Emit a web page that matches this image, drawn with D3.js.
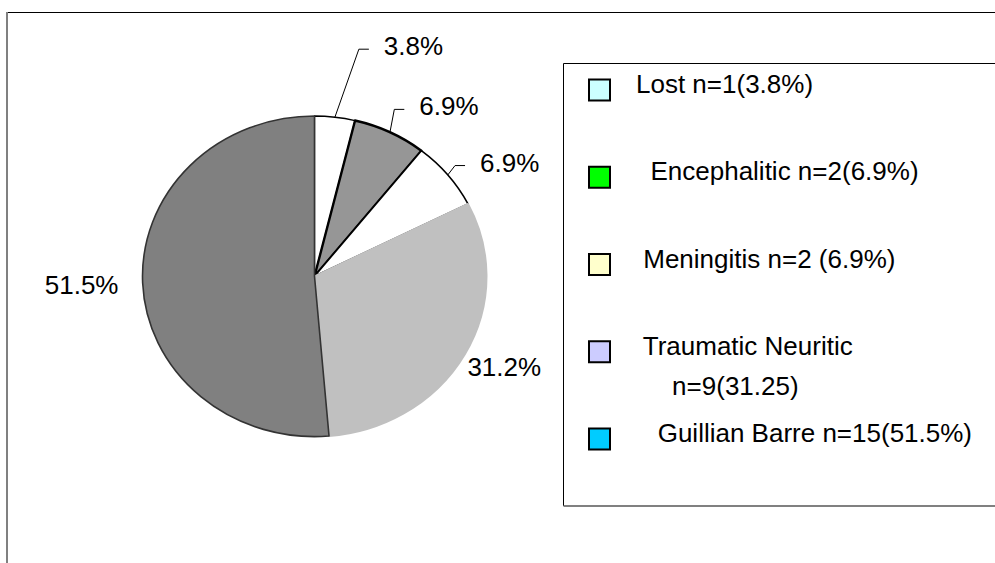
<!DOCTYPE html>
<html>
<head>
<meta charset="UTF-8">
<title>Pie chart</title>
<script src="https://cdn.jsdelivr.net/npm/d3@7"></script>
<style>
  html, body { margin: 0; padding: 0; background: #fff; }
  svg { display: block; }
  text { font-family: Arial, "Liberation Sans", sans-serif; font-size: 26px; fill: #000; white-space: pre; }
</style>
</head>
<body>
<div id="graphe"></div>
<script>
// donnees
var categories = ["Lost", "Encephalitic", "Meningitis", "Traumatic Neuritic", "Guillian Barre"];
var counts = [1, 2, 2, 9, 15];
var percents = [3.8, 6.9, 6.9, 31.2, 51.5];
var pctLabels = ["3.8%", "6.9%", "6.9%", "31.2%", "51.5%"];
var legendLabels = [
  ["Lost n=1(3.8%)"],
  ["  Encephalitic n=2(6.9%)"],
  [" Meningitis n=2 (6.9%)"],
  [" Traumatic Neuritic", "     n=9(31.25)"],
  ["   Guillian Barre n=15(51.5%)"]
];

// styles
var legendColors = ["#ccffff", "#00ff00", "#ffffcc", "#ccccff", "#00ccff"];
var sliceFills = ["#ffffff", "#969696", "#ffffff", "#c0c0c0", "#808080"];
var sliceStrokes = ["#000", "#000", "#000", "#c0c0c0", "#333"];
var sliceStrokeW = [1.3, 2.4, 1.6, 2, 1.6];
// placement des etiquettes : facteur de rayon, decalage angulaire (deg), trait de rappel
var labelK = [1.44, 1.14, 1.07, 1.24, 1.355];
var labelShift = [3.5, -2, -1, -2, 0];
var labelLeader = [true, true, true, false, false];

var width = 995, height = 563;
var cx = 314.5, cy = 276.3, rx = 172, ry = 160.3, ky = ry / rx;

var svg = d3.select("#graphe").append("svg")
  .attr("width", width)
  .attr("height", height);

// cadre exterieur
svg.append("line").attr("x1", 7).attr("x2", width).attr("y1", 12.5).attr("y2", 12.5)
  .attr("stroke", "#000").attr("stroke-width", 1.2);
svg.append("line").attr("x1", 7).attr("x2", 7).attr("y1", 12).attr("y2", height)
  .attr("stroke", "#808080").attr("stroke-width", 2);

var table = categories.map(function(c, i) {
  return { name: c, n: counts[i], pct: percents[i], label: pctLabels[i], i: i };
});

var pie = d3.pie().sort(null).value(function(d) { return d.pct; });
var arcs = pie(table);
var arc = d3.arc().innerRadius(0).outerRadius(rx);

var g = svg.append("g")
  .attr("transform", "translate(" + cx + "," + cy + ") scale(1," + ky + ")");

g.selectAll("path")
  .data(arcs)
  .enter().append("path")
  .attr("d", arc)
  .attr("fill", function(d) { return sliceFills[d.data.i]; })
  .attr("stroke", function(d) { return sliceStrokes[d.data.i]; })
  .attr("stroke-width", function(d) { return sliceStrokeW[d.data.i]; })
  .attr("stroke-linejoin", "round")
  .attr("vector-effect", "non-scaling-stroke");

function pt(a, r) {
  return [cx + r * Math.sin(a), cy - r * Math.cos(a) * ky];
}

var labels = svg.append("g");
arcs.forEach(function(d) {
  var i = d.data.i;
  var mid = (d.startAngle + d.endAngle) / 2;
  var a = mid + labelShift[i] * Math.PI / 180;
  var p = pt(a, rx * labelK[i]);
  if (labelLeader[i]) {
    var e = pt(mid, rx);
    labels.append("polyline")
      .attr("points", [e, p, [p[0] + 10, p[1]]].map(function(q) { return q.join(","); }).join(" "))
      .attr("fill", "none")
      .attr("stroke", "#000")
      .attr("stroke-width", 1);
    labels.append("text")
      .attr("x", p[0] + 25)
      .attr("y", p[1] + 6)
      .text(d.data.label);
  } else {
    labels.append("text")
      .attr("x", p[0])
      .attr("y", p[1] + 9)
      .attr("text-anchor", "middle")
      .text(d.data.label);
  }
});

// legende
var lx = 563.5, ltop = 63.5, lbottom = 506;
svg.append("line").attr("x1", lx).attr("x2", lx).attr("y1", ltop).attr("y2", lbottom)
  .attr("stroke", "#000").attr("stroke-width", 1);
svg.append("line").attr("x1", lx).attr("x2", width).attr("y1", ltop).attr("y2", ltop)
  .attr("stroke", "#000").attr("stroke-width", 1.2);
svg.append("line").attr("x1", lx).attr("x2", width).attr("y1", lbottom).attr("y2", lbottom)
  .attr("stroke", "#808080").attr("stroke-width", 2);

var ly = d3.scalePoint().domain(categories).range([79.5, 428.5]);

var item = svg.append("g").selectAll("g")
  .data(table)
  .enter().append("g")
  .attr("transform", function(d) { return "translate(0," + ly(d.name) + ")"; });

item.append("rect")
  .attr("x", 589)
  .attr("y", 0)
  .attr("width", 21)
  .attr("height", 21)
  .attr("fill", function(d) { return legendColors[d.i]; })
  .attr("stroke", "#000")
  .attr("stroke-width", 2);

item.each(function(d) {
  var t = d3.select(this);
  legendLabels[d.i].forEach(function(s, k) {
    t.append("text")
      .attr("x", 636)
      .attr("y", 13.5 + k * 40)
      .text(s);
  });
});
</script>
</body>
</html>
